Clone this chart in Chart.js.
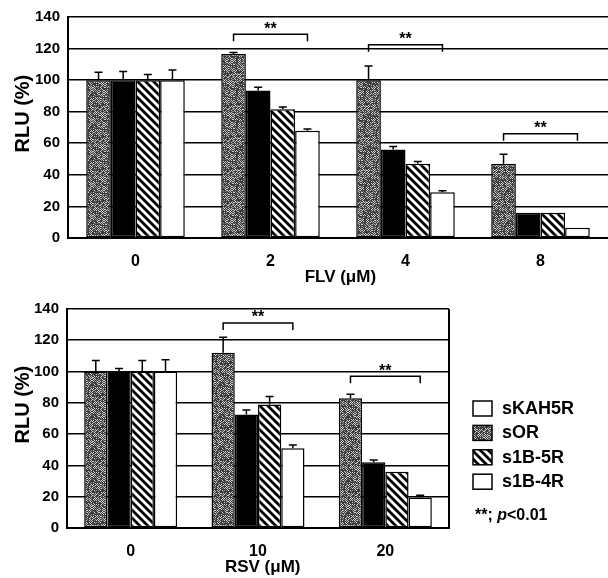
<!DOCTYPE html>
<html>
<head>
<meta charset="utf-8">
<script src="https://cdn.jsdelivr.net/npm/chart.js@4"></script>
<style>
  body { margin: 0; background: #fff; }
  .box { position: relative; width: 608px; }
  #topBox { height: 290px; }
  #bottomBox { height: 288px; }
</style>
</head>
<body>
<div class="box" id="topBox"><canvas id="flvChart"></canvas></div>
<div class="box" id="bottomBox"><canvas id="rsvChart"></canvas></div>
<script>
// ---- data ----
var seriesNames = ["sOR", "sKAH5R", "s1B-5R", "s1B-4R"];
var legendNames = ["sKAH5R", "sOR", "s1B-5R", "s1B-4R"];

// FLV panel
var flvLabels = ["0", "2", "4", "8"];
var flvSOR    = [100, 116.5, 100, 47];
var flvKAH    = [100, 93.5, 56, 16];
var flv1B5R   = [100, 81.5, 47, 16];
var flv1B4R   = [100, 68, 29, 6.5];
var flvSOR_err  = [105, 117.5, 109, 53];
var flvKAH_err  = [105.5, 95.5, 58, null];
var flv1B5R_err = [103.5, 83, 48.5, null];
var flv1B4R_err = [106.5, 69, 30, null];
var flvSig = [null, 129, 122.5, 66];

// RSV panel
var rsvLabels = ["0", "10", "20"];
var rsvSOR    = [100, 112, 83];
var rsvKAH    = [100, 72.5, 42];
var rsv1B5R   = [100, 79, 36];
var rsv1B4R   = [100, 51, 19.5];
var rsvSOR_err  = [107, 122, 85.5];
var rsvKAH_err  = [102, 75.5, 43.5];
var rsv1B5R_err = [107, 84, null];
var rsv1B4R_err = [107.5, 53, 21];
var rsvSig = [null, 131, 97];

var yTicks = [0, 20, 40, 60, 80, 100, 120, 140];

// ---- fills ----
// grainy gray, like the printed screen tone
function speckle() {
  var n = 32;
  var c = document.createElement("canvas");
  c.width = c.height = n;
  var g = c.getContext("2d");
  g.fillStyle = "#d0d0d0";
  g.fillRect(0, 0, n, n);
  for (var y = 0; y < n; y++) {
    for (var x = 0; x < n; x++) {
      var h = Math.imul(x * 374761393 + y * 668265263, 1274126177) >>> 0;
      h = (h ^ (h >>> 15)) % 100;
      if (h < 30) { g.fillStyle = "#3c3c3c"; g.fillRect(x, y, 1, 1); }
      else if (h < 50) { g.fillStyle = "#8a8a8a"; g.fillRect(x, y, 1, 1); }
    }
  }
  return g.createPattern(c, "repeat");
}
function hatch() {
  var c = document.createElement("canvas");
  c.width = c.height = 8;
  var g = c.getContext("2d");
  g.fillStyle = "#fff";
  g.fillRect(0, 0, 8, 8);
  g.strokeStyle = "#000";
  g.lineWidth = 2.8;
  g.beginPath();
  g.moveTo(-2, -2); g.lineTo(10, 10);
  g.moveTo(-2, 6); g.lineTo(2, 10);
  g.moveTo(6, -2); g.lineTo(10, 2);
  g.stroke();
  return g.createPattern(c, "repeat");
}
var grayFill = speckle();
var hatchFill = hatch();
var fills = [grayFill, "#000", hatchFill, "#fff"];
var legendFills = ["#fff", grayFill, hatchFill, "#fff"];

var font = "'Liberation Sans', Arial, sans-serif";

// error bars, significance brackets, frame, legend
var extras = {
  id: "extras",
  afterDatasetsDraw: function(chart, args, opts) {
    var ctx = chart.ctx, y = chart.scales.y, area = chart.chartArea;
    ctx.save();
    ctx.strokeStyle = "#000";
    ctx.lineWidth = 1.5;
    chart.data.datasets.forEach(function(ds, i) {
      chart.getDatasetMeta(i).data.forEach(function(bar, j) {
        var top = ds.errorTop[j];
        if (top == null) return;
        var yt = y.getPixelForValue(top);
        ctx.beginPath();
        ctx.moveTo(bar.x, bar.y);
        ctx.lineTo(bar.x, yt);
        ctx.moveTo(bar.x - 4, yt);
        ctx.lineTo(bar.x + 4, yt);
        ctx.stroke();
      });
    });

    // ** brackets from first to last bar of a group
    var first = chart.getDatasetMeta(0).data, last = chart.getDatasetMeta(3).data;
    ctx.fillStyle = "#000";
    ctx.font = "bold 16px " + font;
    ctx.textAlign = "center";
    ctx.textBaseline = "middle";
    (opts.sig || []).forEach(function(lv, j) {
      if (lv == null) return;
      var x0 = first[j].x, x1 = last[j].x, yl = y.getPixelForValue(lv);
      ctx.beginPath();
      ctx.moveTo(x0, yl + 7); ctx.lineTo(x0, yl);
      ctx.lineTo(x1, yl); ctx.lineTo(x1, yl + 7);
      ctx.stroke();
      ctx.fillText("**", (x0 + x1) / 2, yl - 5);
    });

    if (opts.rightBorder) {
      ctx.lineWidth = 2;
      ctx.beginPath();
      ctx.moveTo(area.right, area.top);
      ctx.lineTo(area.right, area.bottom);
      ctx.stroke();
    }

    if (opts.legend) {
      var L = opts.legend;
      ctx.textAlign = "left";
      ctx.lineWidth = 1.5;
      legendNames.forEach(function(name, i) {
        var cy = L.top + i * L.row;
        ctx.fillStyle = legendFills[i];
        ctx.fillRect(L.x, cy - 8, 19, 15);
        ctx.strokeRect(L.x, cy - 8, 19, 15);
        ctx.fillStyle = "#000";
        ctx.font = "bold 18px " + font;
        ctx.fillText(name, L.x + 29, cy);
      });
      var ny = L.top + 4 * L.row + 9, nx = L.x + 2;
      ctx.font = "bold 16px " + font;
      ctx.fillText("**; ", nx, ny);
      nx += ctx.measureText("**; ").width;
      ctx.font = "italic bold 16px " + font;
      ctx.fillText("p", nx, ny);
      nx += ctx.measureText("p").width;
      ctx.font = "bold 16px " + font;
      ctx.fillText("<0.01", nx, ny);
    }
    ctx.restore();
  }
};

function makeSets(values, errors) {
  return values.map(function(v, i) {
    return {
      label: seriesNames[i],
      data: v,
      errorTop: errors[i],
      backgroundColor: fills[i],
      borderColor: "#000",
      borderWidth: 1.5,
      borderSkipped: false,
      categoryPercentage: 0.73,
      barPercentage: 1.0
    };
  });
}

function makeOptions(cfg) {
  return {
    responsive: true,
    maintainAspectRatio: false,
    animation: false,
    layout: { padding: { top: cfg.top, right: cfg.right, left: 0, bottom: 0 } },
    plugins: {
      legend: { display: false },
      tooltip: { enabled: false },
      extras: { sig: cfg.sig, rightBorder: cfg.rightBorder, legend: cfg.legend }
    },
    scales: {
      x: {
        afterFit: function(s) { s.height = cfg.xHeight; },
        grid: { display: false, drawTicks: false },
        border: { display: true, color: "#000", width: 2 },
        ticks: { color: "#000", padding: 14, font: { family: font, size: 16, weight: "bold" } },
        title: {
          display: true, text: cfg.xTitle, color: "#000",
          padding: { top: 0, bottom: cfg.xTitlePad },
          font: { family: font, size: 17, weight: "bold" }
        }
      },
      y: {
        min: 0, max: 140,
        afterFit: function(s) { s.width = cfg.yWidth; },
        afterBuildTicks: function(s) { s.ticks = yTicks.map(function(v) { return { value: v }; }); },
        grid: { color: "#000", lineWidth: 1.6, drawTicks: false },
        border: { display: true, color: "#000", width: 2 },
        ticks: { color: "#000", padding: 8, font: { family: font, size: 15, weight: "bold" } },
        title: {
          display: true, text: "\u00a0\u00a0\u00a0\u00a0\u00a0RLU (%)", color: "#000",
          padding: { top: 11, bottom: 0 },
          font: { family: font, size: 20, weight: "bold" }
        }
      }
    }
  };
}

new Chart(document.getElementById("flvChart"), {
  type: "bar",
  data: {
    labels: flvLabels,
    datasets: makeSets([flvSOR, flvKAH, flv1B5R, flv1B4R],
                       [flvSOR_err, flvKAH_err, flv1B5R_err, flv1B4R_err])
  },
  options: makeOptions({
    top: 15, right: 0, xHeight: 52, yWidth: 68, xTitlePad: 2,
    xTitle: "\u00a0FLV (\u03bcM)", sig: flvSig, rightBorder: false
  }),
  plugins: [extras]
});

new Chart(document.getElementById("rsvChart"), {
  type: "bar",
  data: {
    labels: rsvLabels,
    datasets: makeSets([rsvSOR, rsvKAH, rsv1B5R, rsv1B4R],
                       [rsvSOR_err, rsvKAH_err, rsv1B5R_err, rsv1B4R_err])
  },
  options: makeOptions({
    top: 19, right: 159, xHeight: 50, yWidth: 67, xTitlePad: 0,
    xTitle: "\u00a0\u00a0RSV (\u03bcM)", sig: rsvSig, rightBorder: true,
    legend: { x: 473, top: 119, row: 24.4 }
  }),
  plugins: [extras]
});
</script>
</body>
</html>
